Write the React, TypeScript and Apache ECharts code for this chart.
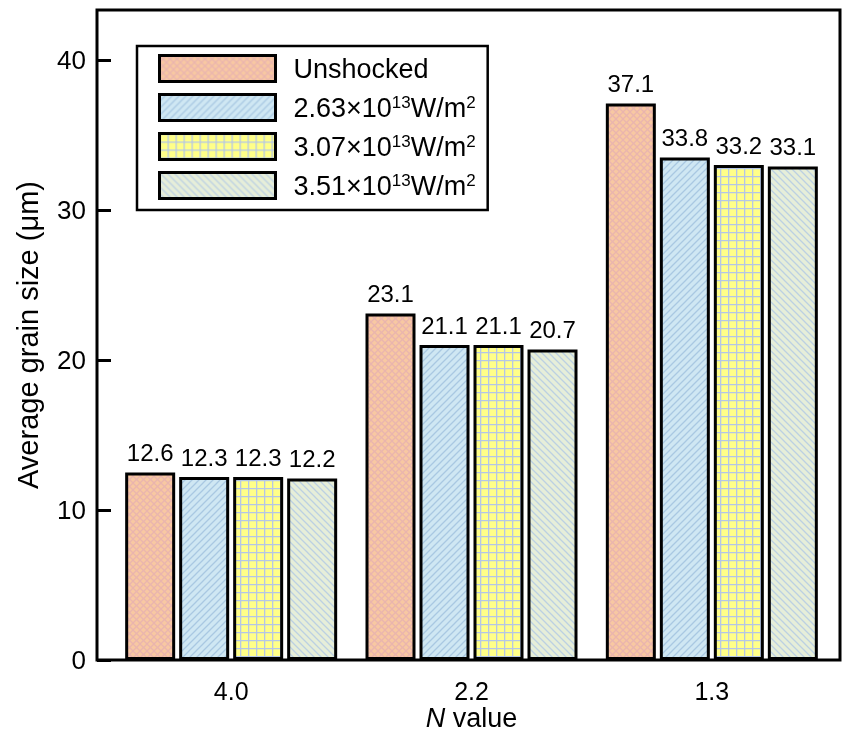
import React, { useEffect, useRef } from "react";
import * as echarts from "echarts";

const categories = ["4.0", "2.2", "1.3"];
const seriesNames = ["Unshocked", "2.63×10^13W/m^2", "3.07×10^13W/m^2", "3.51×10^13W/m^2"];
// bar heights as drawn
const unshocked = [12.5, 23.1, 37.1];
const p263 = [12.2, 21.0, 33.5];
const p307 = [12.2, 21.0, 33.0];
const p351 = [12.1, 20.7, 32.9];
// printed value labels
const unshockedLabels = ["12.6", "23.1", "37.1"];
const p263Labels = ["12.3", "21.1", "33.8"];
const p307Labels = ["12.3", "21.1", "33.2"];
const p351Labels = ["12.2", "20.7", "33.1"];
const yTicks = [0, 10, 20, 30, 40];

const FONT = "'Liberation Sans', Arial, sans-serif";

function makePattern(kind: string, bg: string, line: string) {
  const s = kind === "grid" ? 8 : 7;
  const c = document.createElement("canvas");
  c.width = s;
  c.height = s;
  const ctx = c.getContext("2d")!;
  ctx.fillStyle = bg;
  ctx.fillRect(0, 0, s, s);
  ctx.strokeStyle = line;
  ctx.lineWidth = 1.3;
  const slash = () => {
    ctx.beginPath();
    ctx.moveTo(-1, 1); ctx.lineTo(1, -1);
    ctx.moveTo(0, s); ctx.lineTo(s, 0);
    ctx.moveTo(s - 1, s + 1); ctx.lineTo(s + 1, s - 1);
    ctx.stroke();
  };
  const back = () => {
    ctx.beginPath();
    ctx.moveTo(-1, s - 1); ctx.lineTo(1, s + 1);
    ctx.moveTo(0, 0); ctx.lineTo(s, s);
    ctx.moveTo(s - 1, -1); ctx.lineTo(s + 1, 1);
    ctx.stroke();
  };
  if (kind === "slash") slash();
  else if (kind === "back") back();
  else if (kind === "cross") { slash(); back(); }
  else if (kind === "grid") {
    ctx.lineWidth = 1.6;
    ctx.beginPath();
    ctx.moveTo(0, 0.5); ctx.lineTo(s, 0.5);
    ctx.moveTo(0.5, 0); ctx.lineTo(0.5, s);
    ctx.stroke();
  }
  return { image: c, repeat: "repeat" as const };
}

function legendFormat(name: string) {
  if (name.indexOf("^") < 0) return "{n|" + name + "}";
  const m = name.match(/^(.*)\^(\d+)(W\/m)\^(\d+)$/);
  if (!m) return "{n|" + name + "}";
  return "{n|" + m[1] + "}{sup|" + m[2] + "}{n|" + m[3] + "}{sup|" + m[4] + "}";
}

export default function App() {
  const ref = useRef<HTMLDivElement>(null);
  useEffect(() => {
    if (!ref.current) return;
    const chart = echarts.init(ref.current, null, { renderer: "svg" });
    const values = [unshocked, p263, p307, p351];
    const labels = [unshockedLabels, p263Labels, p307Labels, p351Labels];
    const patterns = [
      makePattern("cross", "#f8c8a2", "#eab5ae"),
      makePattern("slash", "#cfe7f3", "#a9c8e2"),
      makePattern("grid", "#ffff88", "#b4c6e6"),
      makePattern("back", "#e6eed9", "#bcd0e2"),
    ];
    const YMAX = 130 / 3;
    chart.setOption({
      animation: false,
      textStyle: { fontFamily: FONT },
      grid: [
        { left: 97, right: 8, top: 10, bottom: 74, show: true, borderColor: "#000", borderWidth: 3, backgroundColor: "transparent", outerBoundsMode: "none", containLabel: false },
        { left: 111, right: 16, top: 10, bottom: 74, outerBoundsMode: "none", containLabel: false },
      ],
      xAxis: [
        { type: "value", gridIndex: 0, min: 0, max: 1, show: false },
        {
          type: "category",
          gridIndex: 1,
          data: categories,
          axisLine: { show: false },
          axisTick: { show: false },
          axisLabel: { fontSize: 25, color: "#000", margin: 18, fontFamily: FONT },
          name: "{i|N}{r| value}",
          nameLocation: "middle",
          nameGap: 44,
          nameMoveOverlap: false,
          nameTextStyle: {
            fontSize: 27,
            lineHeight: 27,
            color: "#000",
            fontFamily: FONT,
            rich: {
              i: { fontSize: 27, lineHeight: 27, fontStyle: "italic", color: "#000", fontFamily: FONT },
              r: { fontSize: 27, lineHeight: 27, color: "#000", fontFamily: FONT },
            },
          },
        },
      ],
      yAxis: [
        {
          type: "value",
          gridIndex: 0,
          min: 0,
          max: YMAX,
          interval: 10,
          axisLine: { show: false },
          splitLine: { show: false },
          axisTick: { inside: true, length: 14, lineStyle: { color: "#000", width: 3 }, customValues: yTicks },
          axisLabel: { fontSize: 26, color: "#000", margin: 11, fontFamily: FONT, customValues: yTicks },
          name: "Average grain size (μm)",
          nameLocation: "middle",
          nameGap: 55,
          nameMoveOverlap: false,
          nameTextStyle: { fontSize: 29, color: "#000", fontFamily: FONT },
        },
        { type: "value", gridIndex: 1, min: 0, max: YMAX, show: false },
      ],
      legend: {
        data: seriesNames,
        orient: "vertical",
        left: 137,
        top: 46,
        itemWidth: 116,
        itemHeight: 26,
        itemGap: 10,
        icon: "rect",
        selectedMode: false,
        borderColor: "#000",
        borderWidth: 2.5,
        padding: [8, 12, 10, 21],
        itemStyle: { borderColor: "#000", borderWidth: 3 },
        formatter: legendFormat,
        textStyle: {
          color: "#000",
          fontFamily: FONT,
          padding: [0, 0, 0, 13],
          rich: {
            n: { fontSize: 27, color: "#000", fontFamily: FONT, lineHeight: 28, verticalAlign: "bottom" },
            sup: { fontSize: 17, color: "#000", fontFamily: FONT, lineHeight: 9, verticalAlign: "top" },
          },
        },
      },
      series: seriesNames.map((name, i) => ({
        name,
        type: "bar",
        xAxisIndex: 1,
        yAxisIndex: 1,
        data: values[i],
        barWidth: 50,
        barGap: "8%",
        itemStyle: { color: patterns[i], borderColor: "#000", borderWidth: 3 },
        label: {
          show: true,
          position: "top",
          distance: 8,
          fontSize: 24,
          color: "#000",
          fontFamily: FONT,
          formatter: (p: any) => labels[i][p.dataIndex],
        },
      })),
    });
    return () => chart.dispose();
  }, []);
  return <div ref={ref} style={{ position: "fixed", left: 0, top: 0, width: 848, height: 734 }} />;
}
